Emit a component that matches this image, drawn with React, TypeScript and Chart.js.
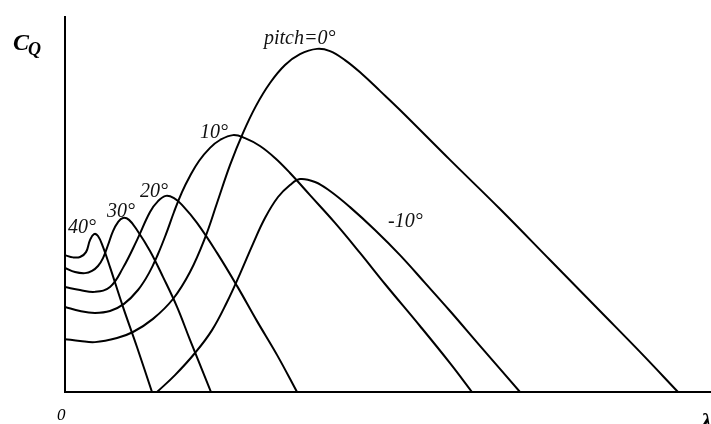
import React, { useEffect, useRef } from 'react';
import { Chart, registerables } from 'chart.js';

Chart.register(...registerables);

// Torque coefficient C_Q against tip speed ratio λ for several blade pitch angles.
const LAMBDA_MAX = 12;
const CQ_MAX = 1;

// pitch = 40°
const lambda40 = [0, 0.149, 0.279, 0.39, 0.464, 0.539, 0.613, 0.706, 0.836, 1.077, 1.337, 1.616];
const cq40 = [0.365, 0.359, 0.36, 0.373, 0.405, 0.421, 0.416, 0.387, 0.333, 0.227, 0.12, 0];

// pitch = 30°
const lambda30 = [0, 0.186, 0.372, 0.502, 0.613, 0.706, 0.799, 0.892, 0.985, 1.077, 1.189, 1.337, 1.579, 1.82, 2.081, 2.322, 2.712];
const cq30 = [0.331, 0.32, 0.317, 0.323, 0.336, 0.357, 0.392, 0.429, 0.453, 0.464, 0.459, 0.432, 0.376, 0.307, 0.227, 0.139, 0];

// pitch = 20°
const lambda20 = [0, 0.279, 0.557, 0.836, 1.077, 1.337, 1.579, 1.728, 1.876, 2.025, 2.173, 2.452, 2.824, 3.195, 3.567, 3.938, 4.31];
const cq20 = [0.28, 0.272, 0.267, 0.28, 0.331, 0.405, 0.48, 0.509, 0.523, 0.517, 0.499, 0.451, 0.371, 0.283, 0.189, 0.099, 0];

// pitch = 10°
const lambda10 = [0, 0.279, 0.557, 0.836, 1.096, 1.356, 1.56, 1.728, 1.876, 2.025, 2.173, 2.322, 2.489, 2.694, 2.879, 3.121, 3.344, 3.622, 3.901, 4.18, 4.551, 5.016, 5.48, 5.944, 6.594, 7.152, 7.56];
const cq10 = [0.227, 0.216, 0.211, 0.216, 0.235, 0.272, 0.317, 0.368, 0.421, 0.48, 0.533, 0.576, 0.616, 0.651, 0.672, 0.685, 0.677, 0.656, 0.624, 0.584, 0.525, 0.451, 0.371, 0.288, 0.176, 0.077, 0];

// pitch = 0°
const lambda0 = [0, 0.279, 0.557, 0.966, 1.263, 1.635, 2.006, 2.322, 2.601, 2.824, 3.065, 3.307, 3.548, 3.808, 4.087, 4.365, 4.681, 4.923, 5.201, 5.517, 5.851, 6.223, 7.152, 8.081, 9.01, 9.938, 10.681, 11.387];
const cq0 = [0.141, 0.136, 0.133, 0.144, 0.16, 0.195, 0.248, 0.32, 0.411, 0.504, 0.605, 0.691, 0.763, 0.824, 0.872, 0.901, 0.915, 0.909, 0.885, 0.848, 0.803, 0.752, 0.619, 0.488, 0.352, 0.216, 0.107, 0];

// pitch = -10°
const lambdaM10 = [1.709, 2.043, 2.415, 2.731, 3.01, 3.251, 3.492, 3.715, 3.957, 4.18, 4.365, 4.644, 4.923, 5.294, 5.758, 6.223, 6.687, 7.152, 7.709, 8.452];
const cqM10 = [0, 0.045, 0.104, 0.165, 0.24, 0.315, 0.395, 0.464, 0.52, 0.552, 0.568, 0.56, 0.536, 0.493, 0.432, 0.365, 0.291, 0.216, 0.123, 0];

const curveNames = ['40°', '30°', '20°', '10°', 'pitch=0°', '-10°'];
const curveLambdas = [lambda40, lambda30, lambda20, lambda10, lambda0, lambdaM10];
const curveCqs = [cq40, cq30, cq20, cq10, cq0, cqM10];

// Where each curve's caption sits, measured in pixels from the curve's peak.
const captionOffsets = [
  { dx: -26, dy: -1 },
  { dx: -16, dy: -1 },
  { dx: -26, dy: 1 },
  { dx: -33, dy: 3 },
  { dx: -53, dy: -5 },
  { dx: 88, dy: 48 },
];

const SERIF = '"Liberation Serif", "Times New Roman", serif';

const curveCaptions = {
  id: 'curveCaptions',
  afterDatasetsDraw(chart: any) {
    const { ctx, chartArea } = chart;
    const xs = chart.scales.x;
    const ys = chart.scales.y;
    ctx.save();
    ctx.fillStyle = '#111';
    ctx.textAlign = 'left';
    ctx.textBaseline = 'alphabetic';
    ctx.font = `italic 20px ${SERIF}`;
    chart.data.datasets.forEach((ds: any, i: number) => {
      let peak = ds.data[0];
      for (const p of ds.data) if (p.y > peak.y) peak = p;
      const px = xs.getPixelForValue(peak.x);
      const py = ys.getPixelForValue(peak.y);
      const off = captionOffsets[i];
      ctx.fillText(ds.label, px + off.dx, py + off.dy);
    });

    // axis names
    ctx.fillStyle = '#000';
    ctx.font = `bold italic 24px ${SERIF}`;
    ctx.fillText('C', chartArea.left - 52, chartArea.top + 33);
    ctx.font = `bold italic 18px ${SERIF}`;
    ctx.fillText('Q', chartArea.left - 37, chartArea.top + 38);
    ctx.font = `italic 17px ${SERIF}`;
    ctx.fillText('0', chartArea.left - 8, chartArea.bottom + 28);
    ctx.font = `bold italic 24px ${SERIF}`;
    ctx.fillText('λ', chartArea.right - 10, chartArea.bottom + 37);
    ctx.restore();
  },
};

export default function App() {
  const canvasRef = useRef<HTMLCanvasElement | null>(null);

  useEffect(() => {
    const canvas = canvasRef.current;
    if (!canvas) return;

    const datasets = curveNames.map((name, i) => ({
      label: name,
      data: curveLambdas[i].map((l, k) => ({ x: l, y: curveCqs[i][k] })),
      borderColor: '#000',
      borderWidth: 2,
      pointRadius: 0,
      fill: false,
      tension: 0.4,
    }));

    const chart = new Chart(canvas, {
      type: 'line',
      data: { datasets },
      options: {
        animation: false,
        responsive: false,
        layout: { padding: { left: 65, top: 17, right: 0, bottom: 32 } },
        plugins: { legend: { display: false }, tooltip: { enabled: false } },
        scales: {
          x: {
            type: 'linear',
            min: 0,
            max: LAMBDA_MAX,
            grid: { display: false, drawTicks: false },
            ticks: { display: false },
            border: { display: true, color: '#000', width: 2 },
          },
          y: {
            type: 'linear',
            min: 0,
            max: CQ_MAX,
            grid: { display: false, drawTicks: false },
            ticks: { display: false },
            border: { display: true, color: '#000', width: 2 },
          },
        },
      },
      plugins: [curveCaptions],
    });

    return () => chart.destroy();
  }, []);

  return (
    <div style={{ position: 'absolute', left: 0, top: 0, width: 711, height: 424, background: '#fff' }}>
      <canvas ref={canvasRef} width={711} height={424} />
    </div>
  );
}
